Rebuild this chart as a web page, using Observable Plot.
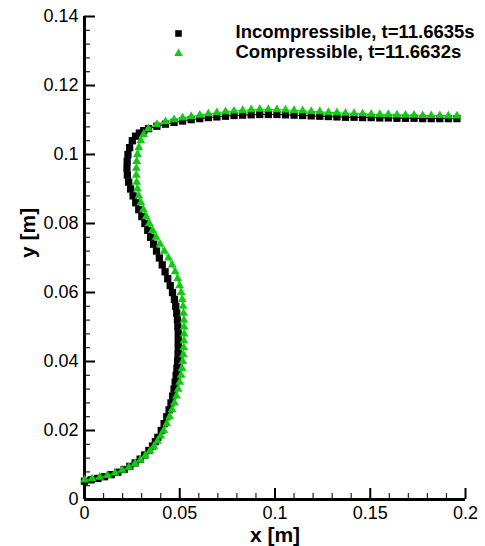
<!DOCTYPE html>
<html><head><meta charset="utf-8">
<script src="https://cdn.jsdelivr.net/npm/d3@7"></script>
<script src="https://cdn.jsdelivr.net/npm/@observablehq/plot@0.6"></script>
<style>body{margin:0;background:#fff}</style>
</head><body><div id="chart"></div>
<script>
const seriesNames = ["Incompressible, t=11.6635s", "Compressible, t=11.6632s"];
const incompressible = [
[0.0000,0.0053],[0.0035,0.0057],[0.0070,0.0061],[0.0105,0.0066],[0.0140,0.0072],[0.0175,0.0079],[0.0208,0.0087],[0.0238,0.0096],[0.0266,0.0106],[0.0292,0.0117],[0.0316,0.0129],[0.0338,0.0142],[0.0357,0.0155],[0.0372,0.0168],
[0.0385,0.018],[0.0403,0.020],[0.0418,0.022],[0.0432,0.024],[0.0444,0.026],[0.0454,0.028],[0.0463,0.030],[0.0470,0.032],[0.0476,0.034],[0.0481,0.036],[0.0485,0.038],[0.0489,0.040],[0.0491,0.042],[0.0492,0.044],[0.0492,0.046],[0.0492,0.048],[0.0490,0.050],[0.0488,0.052],[0.0484,0.054],[0.0479,0.056],[0.0472,0.058],[0.0462,0.060],[0.0450,0.062],[0.0437,0.064],[0.0423,0.066],[0.0408,0.068],[0.0393,0.070],[0.0378,0.072],[0.0363,0.074],[0.0347,0.076],[0.0332,0.078],[0.0317,0.080],[0.0301,0.082],[0.0285,0.084],[0.0269,0.086],[0.0255,0.088],[0.0242,0.090],[0.0232,0.092],[0.0225,0.094],[0.0223,0.096],[0.0224,0.098],[0.0228,0.100],[0.0237,0.102],[0.0251,0.104],
[0.0268,0.1053],[0.0288,0.1062],[0.0311,0.1069],[0.0336,0.1075],
[0.0380,0.1082],[0.0425,0.1088],[0.0470,0.1093],[0.0515,0.1097],[0.0560,0.1101],[0.0605,0.1104],[0.0650,0.1107],[0.0695,0.1109],[0.0740,0.1111],[0.0785,0.1113],[0.0830,0.1114],[0.0875,0.1115],[0.0920,0.1116],[0.0965,0.1116],[0.1010,0.1116],[0.1055,0.1115],[0.1100,0.1114],[0.1145,0.1113],[0.1190,0.1112],[0.1235,0.1111],[0.1280,0.1110],[0.1325,0.1109],[0.1370,0.1108],[0.1415,0.1108],[0.1460,0.1107],[0.1505,0.1107],[0.1550,0.1106],[0.1595,0.1106],[0.1640,0.1105],[0.1685,0.1105],[0.1730,0.1105],[0.1775,0.1104],[0.1820,0.1104],[0.1865,0.1104],[0.1910,0.1104],[0.1955,0.1104]
];
const compressible = [
[0.0000,0.0057],[0.0040,0.0060],[0.0080,0.0065],[0.0120,0.0070],[0.0160,0.0077],[0.0198,0.0085],[0.0233,0.0094],[0.0265,0.0104],[0.0293,0.0115],[0.0319,0.0127],[0.0343,0.0140],[0.0364,0.0154],[0.0383,0.0169],[0.0400,0.0184],[0.0416,0.0200],
[0.0432,0.022],[0.0447,0.024],[0.0460,0.026],[0.0472,0.028],[0.0483,0.030],[0.0492,0.032],[0.0500,0.034],[0.0507,0.036],[0.0512,0.038],[0.0516,0.040],[0.0519,0.042],[0.0521,0.044],[0.0522,0.046],[0.0523,0.048],[0.0523,0.050],[0.0522,0.052],[0.0520,0.054],[0.0517,0.056],[0.0513,0.058],[0.0507,0.060],[0.0499,0.062],[0.0489,0.064],[0.0476,0.066],[0.0460,0.068],[0.0441,0.070],[0.0419,0.072],[0.0397,0.074],[0.0376,0.076],[0.0357,0.078],[0.0340,0.080],[0.0324,0.082],[0.0309,0.084],[0.0296,0.086],[0.0285,0.088],[0.0278,0.090],[0.0274,0.092],[0.0272,0.094],[0.0272,0.096],[0.0274,0.098],[0.0278,0.100],[0.0285,0.102],[0.0295,0.104],[0.0310,0.1058],
[0.0335,0.1075],[0.0380,0.1087],[0.0425,0.1095],[0.0470,0.1101],[0.0515,0.1106],[0.0560,0.1110],[0.0605,0.1114],[0.0650,0.1118],[0.0695,0.1121],[0.0740,0.1124],[0.0785,0.1126],[0.0830,0.1128],[0.0875,0.1130],[0.0920,0.1131],[0.0965,0.1131],[0.1010,0.1130],[0.1055,0.1129],[0.1100,0.1128],[0.1145,0.1127],[0.1190,0.1125],[0.1235,0.1124],[0.1280,0.1122],[0.1325,0.1121],[0.1370,0.1120],[0.1415,0.1119],[0.1460,0.1118],[0.1505,0.1117],[0.1550,0.1116],[0.1595,0.1116],[0.1640,0.1115],[0.1685,0.1114],[0.1730,0.1114],[0.1775,0.1113],[0.1820,0.1113],[0.1865,0.1113],[0.1910,0.1112],[0.1955,0.1112]
];
const xMajor = [0, 0.05, 0.1, 0.15, 0.2];
const xLabels = ["0", "0.05", "0.1", "0.15", "0.2"];
const xMinor = [0.01,0.02,0.03,0.04,0.06,0.07,0.08,0.09,0.11,0.12,0.13,0.14,0.16,0.17,0.18,0.19];
const yMajor = [0, 0.02, 0.04, 0.06, 0.08, 0.1, 0.12, 0.14];
const yLabels = ["0", "0.02", "0.04", "0.06", "0.08", "0.1", "0.12", "0.14"];
const yMinor = [0.004,0.008,0.012,0.016,0.024,0.028,0.032,0.036,0.044,0.048,0.052,0.056,0.064,0.068,0.072,0.076,0.084,0.088,0.092,0.096,0.104,0.108,0.112,0.116,0.124,0.128,0.132,0.136];
const axisTitles = ["x [m]", "y [m]"];
const colors = ["#000000", "#10cc10"];

const W = 485, H = 546, mL = 84, mR = 20, mT = 16, mB = 47;
const pw = W - mL - mR, ph = H - mT - mB;
const inc = incompressible.map(([x, y]) => ({x, y}));
const comp = compressible.map(([x, y]) => ({x, y}));
const font = "'Liberation Sans', Arial, Helvetica, sans-serif";

const chart = Plot.plot({
  width: W, height: H,
  marginLeft: mL, marginRight: mR, marginTop: mT, marginBottom: mB,
  style: {fontFamily: font, fontSize: "18px", color: "black", background: "white"},
  x: {domain: [0, 0.2]},
  y: {domain: [0, 0.14]},
  marks: [
    Plot.ruleY(yMinor, {y: d => d, insetRight: pw - 6, stroke: "#222", strokeWidth: 1.2}),
    Plot.ruleY(yMajor, {y: d => d, insetRight: pw - 11, stroke: "black", strokeWidth: 2}),
    Plot.ruleX(xMinor, {x: d => d, insetTop: ph - 6, stroke: "#222", strokeWidth: 1.2}),
    Plot.ruleX(xMajor, {x: d => d, insetTop: ph - 11, stroke: "black", strokeWidth: 2}),
    Plot.ruleX([0], {stroke: "black", strokeWidth: 3}),
    Plot.ruleY([0], {stroke: "black", strokeWidth: 3}),
    Plot.axisY({ticks: yMajor, tickSize: 0, tickPadding: 6, tickFormat: (d) => yLabels[yMajor.indexOf(d)], label: null, fontSize: 18}),
    Plot.axisX({ticks: xMajor, tickSize: 0, tickPadding: 7, tickFormat: (d) => xLabels[xMajor.indexOf(d)], label: null, fontSize: 18}),
    Plot.text([axisTitles[0]], {frameAnchor: "bottom", dy: 42, text: d => d, fontWeight: "bold", fontSize: 21}),
    Plot.text([axisTitles[1]], {frameAnchor: "left", dx: -56, rotate: -90, text: d => d, fontWeight: "bold", fontSize: 21}),
    Plot.line(inc, {x: "x", y: "y", stroke: colors[0], strokeWidth: 1}),
    Plot.dot(inc, {x: "x", y: "y", symbol: "square", fill: colors[0], r: 4.1}),
    Plot.line(comp, {x: "x", y: "y", stroke: colors[1], strokeWidth: 1}),
    Plot.dot(comp, {x: "x", y: "y", symbol: "triangle", fill: colors[1], r: 3.3}),
    Plot.dot([seriesNames[0]], {frameAnchor: "top-left", dx: 94, dy: 17, symbol: "square", fill: colors[0], r: 3.7}),
    Plot.dot([seriesNames[1]], {frameAnchor: "top-left", dx: 94, dy: 37, symbol: "triangle", fill: colors[1], r: 3.2}),
    Plot.text([seriesNames[0]], {frameAnchor: "top-left", dx: 151, dy: 15.5, text: d => d, textAnchor: "start", lineAnchor: "middle", fontWeight: "bold", fontSize: 18.5}),
    Plot.text([seriesNames[1]], {frameAnchor: "top-left", dx: 151, dy: 35.5, text: d => d, textAnchor: "start", lineAnchor: "middle", fontWeight: "bold", fontSize: 18.5}),
  ]
});
document.getElementById("chart").appendChild(chart);
</script>
</body></html>
